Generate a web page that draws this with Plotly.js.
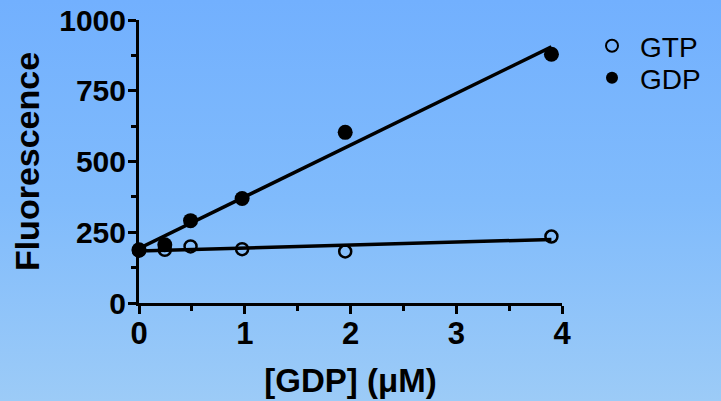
<!DOCTYPE html>
<html>
<head>
<meta charset="utf-8">
<script src="https://cdn.plot.ly/plotly-3.0.1.min.js"></script>
<style>
  html, body { margin: 0; padding: 0; }
  body { width: 721px; height: 401px; background: linear-gradient(to bottom, #72b0fe 0%, #80bbfc 50%, #9ccbf7 100%); }
  #chart { width: 721px; height: 401px; }
</style>
</head>
<body>
<div id="chart"></div>
<script>
// Data
const gdpConc = [0, 0.244, 0.4875, 0.975, 1.95, 3.9];   // [GDP] (μM)
const gtpValues = [185, 188, 200, 190, 182, 235];        // Fluorescence, GTP (open)
const gdpValues = [188, 206, 291, 369, 603, 879];        // Fluorescence, GDP (filled)
const xTicks = [0, 1, 2, 3, 4];
const yTicks = [0, 250, 500, 750, 1000];

function linfit(x, y) {
  const n = x.length;
  const mx = x.reduce((a, b) => a + b, 0) / n;
  const my = y.reduce((a, b) => a + b, 0) / n;
  let sxy = 0, sxx = 0;
  for (let i = 0; i < n; i++) { sxy += (x[i] - mx) * (y[i] - my); sxx += (x[i] - mx) ** 2; }
  const b = sxy / sxx;
  return { a: my - b * mx, b: b };
}
const fitX = [Math.min(...gdpConc), Math.max(...gdpConc)];
const fGTP = linfit(gdpConc, gtpValues);
const fGDP = linfit(gdpConc, gdpValues);

const font = 'Arial, "Liberation Sans", sans-serif';

const traces = [
  { x: fitX, y: fitX.map(v => fGTP.a + fGTP.b * v), mode: 'lines', line: { color: '#000', width: 3.5 },
    showlegend: false, hoverinfo: 'skip', cliponaxis: false },
  { x: fitX, y: fitX.map(v => fGDP.a + fGDP.b * v), mode: 'lines', line: { color: '#000', width: 3.5 },
    showlegend: false, hoverinfo: 'skip', cliponaxis: false },
  { x: gdpConc, y: gtpValues, name: 'GTP', mode: 'markers', cliponaxis: false, legend: 'legend',
    marker: { symbol: 'circle-open', size: 12, color: '#000', line: { width: 2.5, color: '#000' } } },
  { x: gdpConc, y: gdpValues, name: 'GDP', mode: 'markers', cliponaxis: false, legend: 'legend2',
    marker: { symbol: 'circle', size: 15, color: '#000' } }
];

function legendAt(yCenter) {
  return {
    xref: 'container', yref: 'container', x: 584 / 721, y: 1 - yCenter / 401,
    xanchor: 'left', yanchor: 'middle', bgcolor: 'rgba(0,0,0,0)', borderwidth: 0,
    font: { family: font, size: 28, color: '#000' }, itemsizing: 'constant', itemwidth: 46
  };
}

const layout = {
  width: 721, height: 401,
  paper_bgcolor: 'rgba(0,0,0,0)', plot_bgcolor: 'rgba(0,0,0,0)',
  margin: { l: 139, r: 159, t: 20, b: 98 },
  font: { family: font, color: '#000' },
  showlegend: true,
  legend: legendAt(46),
  legend2: legendAt(78),
  xaxis: {
    range: [0, 4], tickvals: xTicks, ticktext: xTicks.map(String),
    showgrid: false, zeroline: false, showline: true, linecolor: '#000', linewidth: 3,
    ticks: 'outside', ticklen: 8, tickwidth: 3, tickcolor: '#000', ticklabelstandoff: -7,
    minor: { dtick: 0.5, ticks: 'outside', ticklen: 5, tickwidth: 3, tickcolor: '#000', showgrid: false },
    tickfont: { family: font, size: 31, color: '#000', weight: 'bold' },
    title: { text: '[GDP] (μM)', font: { family: font, size: 33, color: '#000', weight: 'bold' }, standoff: 19 },
    automargin: false
  },
  yaxis: {
    range: [0, 1000], tickvals: yTicks, ticktext: yTicks.map(String),
    showgrid: false, zeroline: false, showline: true, linecolor: '#000', linewidth: 3,
    ticks: 'outside', ticklen: 8, tickwidth: 3, tickcolor: '#000', ticklabelstandoff: -4,
    minor: { dtick: 125, ticks: 'outside', ticklen: 5, tickwidth: 3, tickcolor: '#000', showgrid: false },
    tickfont: { family: font, size: 30, color: '#000', weight: 'bold' },
    title: { text: 'Fluorescence', font: { family: font, size: 34, color: '#000', weight: 'bold' }, standoff: 10 },
    automargin: false
  }
};

Plotly.newPlot('chart', traces, layout, { displayModeBar: false, staticPlot: true });
</script>
</body>
</html>
